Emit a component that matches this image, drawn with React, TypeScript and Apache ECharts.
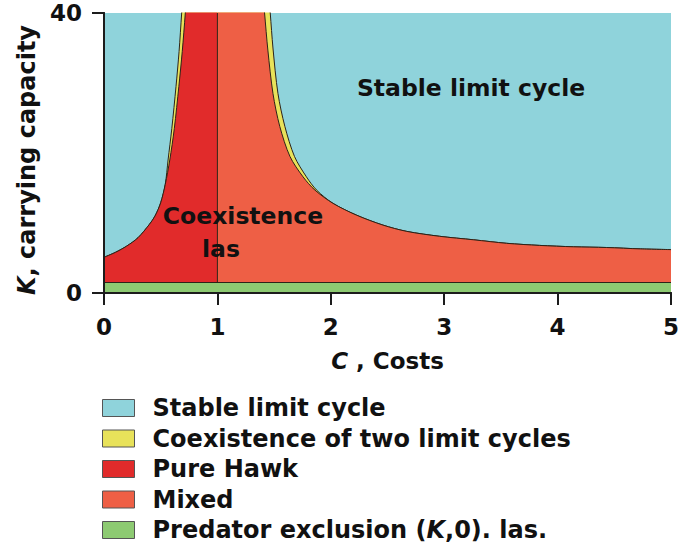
import React, { useEffect, useRef } from "react";
import * as echarts from "echarts";

const FONT = "DejaVu Sans";

// Region boundaries (C = costs, K = carrying capacity).
// Values above 40 run off the top of the plot and are clipped.
const hawkC = [0, 0.1, 0.2, 0.3, 0.4, 0.45, 0.5, 0.54, 0.58, 0.62, 0.66, 0.69, 0.717, 0.74, 0.76, 0.79, 1.0];
const hawkK = [5.1, 5.8, 6.7, 7.9, 9.8, 11.0, 12.9, 15.5, 19.0, 23.5, 29.5, 34.5, 40, 45.5, 51, 60, 60];

const mixedC = [1.0, 1.33, 1.36, 1.39, 1.416, 1.445, 1.49, 1.55, 1.64, 1.755, 1.86, 2.02, 2.23, 2.46, 2.67, 2.96, 3.26, 3.55, 3.84, 4.14, 4.43, 4.73, 5.0];
const mixedK = [60, 60, 52, 45, 40, 34.7, 28.5, 23.8, 19.5, 16.6, 14.7, 12.8, 11.1, 9.7, 8.8, 8.1, 7.6, 7.1, 6.8, 6.6, 6.5, 6.3, 6.2];

const yellowC = [0, 0.1, 0.2, 0.3, 0.4, 0.45, 0.5, 0.54, 0.565, 0.598, 0.635, 0.662, 0.685, 0.708, 0.728, 0.758, 1.0, 1.38, 1.41, 1.44, 1.466, 1.49, 1.534, 1.595, 1.68, 1.785, 1.875, 2.02, 2.23, 2.46, 2.67, 2.96, 3.26, 3.55, 3.84, 4.14, 4.43, 4.73, 5.0];
const yellowK = [5.1, 5.8, 6.7, 7.9, 9.8, 11.0, 12.9, 15.5, 19.0, 23.5, 29.5, 34.5, 40, 45.5, 51, 60, 60, 60, 52, 45, 40, 35, 28.5, 23.8, 19.5, 16.6, 14.7, 12.8, 11.1, 9.7, 8.8, 8.1, 7.6, 7.1, 6.8, 6.6, 6.5, 6.3, 6.2];

const stableC = [0, 5];
const stableK = [40, 40];

const exclusionC = [0, 5];
const exclusionK = [1.5, 1.5];

const dividerC = [1, 1];
const dividerK = [1.5, 40];

const xTicks = [0, 1, 2, 3, 4, 5];
const yTicks = [0, 40];

const names = [
  "Stable limit cycle",
  "Coexistence of two limit cycles",
  "Pure Hawk",
  "Mixed",
  "Predator exclusion (K,0). las.",
];

const colors = {
  stable: "#8fd3db",
  yellow: "#e8e25a",
  hawk: "#e12b2b",
  mixed: "#ee5f45",
  green: "#8dca72",
  outline: "#2e2218",
  axis: "#1c1c1c",
};

const zip = (xs: number[], ys: number[]) => xs.map((x, i) => [x, ys[i]]);

export default function App() {
  const ref = useRef<HTMLDivElement>(null);

  useEffect(() => {
    if (!ref.current) return;
    const chart = echarts.init(ref.current, null, { renderer: "svg" });

    const areaSeries = (name: string, data: number[][], fill: string, z = 2) => ({
      name,
      type: "line",
      data,
      symbol: "none",
      smooth: 0.3,
      z,
      itemStyle: { color: fill },
      lineStyle: { color: colors.outline, width: 1 },
      areaStyle: { color: fill, opacity: 1 },
      emphasis: { disabled: true },
    });

    const axisLine = { show: true, lineStyle: { color: colors.axis, width: 2 } };
    const labelStyle = { fontFamily: FONT, fontWeight: "bold", fontSize: 23, color: "#111" };

    const option: any = {
      animation: false,
      grid: {
        left: 104,
        right: 9,
        top: 13,
        bottom: 257,
        containLabel: false,
        outerBoundsMode: "none",
      },
      xAxis: [
        {
          type: "value",
          min: 0,
          max: 5,
          interval: 1,
          position: "bottom",
          z: 10,
          axisLine,
          axisTick: { show: true, length: 12, lineStyle: { color: colors.axis, width: 2 } },
          axisLabel: { ...labelStyle, margin: 22, formatter: (v: number) => (xTicks.includes(v) ? String(v) : "") },
          splitLine: { show: false },
          name: "{i|C} , Costs",
          nameLocation: "middle",
          nameGap: 56,
          nameTextStyle: {
            ...labelStyle,
            rich: { i: { ...labelStyle, fontStyle: "italic" } },
          },
        },
        {
          type: "value",
          min: 0,
          max: 5,
          position: "top",
          z: 10,
          axisLine,
          axisTick: { show: false },
          axisLabel: { show: false },
          splitLine: { show: false },
        },
      ],
      yAxis: [
        {
          type: "value",
          min: 0,
          max: 40,
          interval: 40,
          position: "left",
          z: 10,
          axisLine,
          axisTick: { show: true, length: 12, lineStyle: { color: colors.axis, width: 2 } },
          axisLabel: { ...labelStyle, margin: 22, formatter: (v: number) => (yTicks.includes(v) ? String(v) : "") },
          splitLine: { show: false },
          name: "{i|K}, carrying capacity",
          nameLocation: "middle",
          nameRotate: 90,
          nameGap: 60,
          nameTextStyle: {
            ...labelStyle,
            fontSize: 24,
            padding: [0, 14, 0, 0],
            rich: { i: { ...labelStyle, fontSize: 24, fontStyle: "italic" } },
          },
        },
        {
          type: "value",
          min: 0,
          max: 40,
          position: "right",
          z: 10,
          axisLine,
          axisTick: { show: false },
          axisLabel: { show: false },
          splitLine: { show: false },
        },
      ],
      legend: {
        orient: "vertical",
        left: 97,
        top: 391,
        icon: "rect",
        itemWidth: 32,
        itemHeight: 17,
        itemGap: 6.5,
        selectedMode: false,
        data: names,
        itemStyle: { borderColor: "#555", borderWidth: 1 },
        formatter: (name: string) =>
          name === names[4] ? "Predator exclusion ({i|K},0). las." : name,
        textStyle: {
          ...labelStyle,
          fontSize: 24,
          padding: [0, 0, 0, 13],
          rich: { i: { ...labelStyle, fontSize: 24, fontStyle: "italic" } },
        },
      },
      series: [
        { ...areaSeries(names[0], zip(stableC, stableK), colors.stable, 1), smooth: false, lineStyle: { width: 0 } },
        areaSeries(names[1], zip(yellowC, yellowK), colors.yellow, 2),
        areaSeries(names[2], zip(hawkC, hawkK), colors.hawk, 3),
        areaSeries(names[3], zip(mixedC, mixedK), colors.mixed, 3),
        { ...areaSeries(names[4], zip(exclusionC, exclusionK), colors.green, 4), smooth: false },
        {
          name: "divider",
          type: "line",
          data: zip(dividerC, dividerK),
          symbol: "none",
          z: 5,
          lineStyle: { color: colors.outline, width: 1 },
          emphasis: { disabled: true },
        },
      ],
      graphic: [
        {
          type: "text",
          x: 471,
          y: 88,
          z: 20,
          style: { text: "Stable limit cycle", ...labelStyle, fontSize: 23.5, fill: "#111", align: "center", verticalAlign: "middle" },
        },
        {
          type: "text",
          x: 243,
          y: 216,
          z: 20,
          style: { text: "Coexistence", ...labelStyle, fontSize: 23.5, fill: "#111", align: "center", verticalAlign: "middle" },
        },
        {
          type: "text",
          x: 221,
          y: 249,
          z: 20,
          style: { text: "las", ...labelStyle, fontSize: 23.5, fill: "#111", align: "center", verticalAlign: "middle" },
        },
      ],
    };

    chart.setOption(option);
    return () => chart.dispose();
  }, []);

  return (
    <div
      ref={ref}
      style={{ position: "absolute", left: 0, top: 0, width: 680, height: 550 }}
    />
  );
}
